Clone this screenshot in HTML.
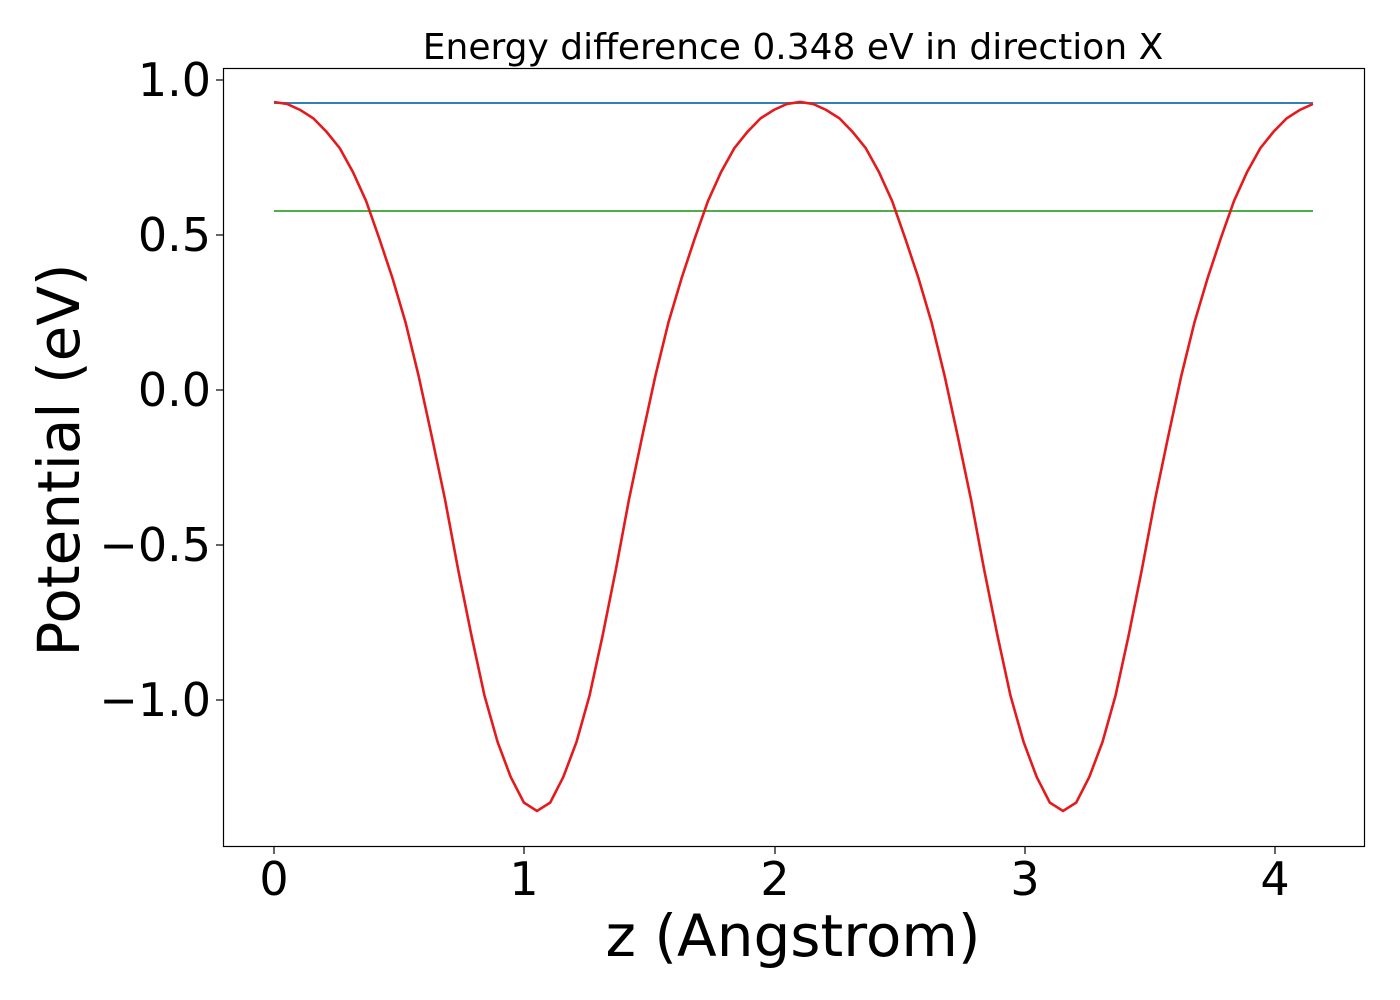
<!DOCTYPE html>
<html><head><meta charset="utf-8"><style>body{margin:0;background:#fff}svg{display:block}</style></head><body>
<svg width="1400" height="1000" xmlns="http://www.w3.org/2000/svg" font-family="'DejaVu Sans','Liberation Sans',sans-serif">
<rect width="1400" height="1000" fill="#fff"/>
<line x1="274" y1="103" x2="1313" y2="103" stroke="#377eb8" stroke-width="2"/>
<line x1="274" y1="211" x2="1313" y2="211" stroke="#4daf4a" stroke-width="2"/>
<polyline id="c" fill="none" stroke="#e41a1c" stroke-width="2.6" points=""/>
<rect x="223.5" y="68.5" width="1141" height="778" fill="none" stroke="#000" stroke-width="1.2"/>
<g stroke="#000" stroke-width="1.2">
<line x1="274" y1="847" x2="274" y2="854"/><line x1="524" y1="847" x2="524" y2="854"/><line x1="775" y1="847" x2="775" y2="854"/><line x1="1025" y1="847" x2="1025" y2="854"/><line x1="1275" y1="847" x2="1275" y2="854"/>
<line x1="216" y1="80" x2="223" y2="80"/><line x1="216" y1="235" x2="223" y2="235"/><line x1="216" y1="390" x2="223" y2="390"/><line x1="216" y1="545" x2="223" y2="545"/><line x1="216" y1="700" x2="223" y2="700"/>
</g>
<g font-size="46" text-anchor="middle">
<text x="274" y="895">0</text><text x="524" y="895">1</text><text x="775" y="895">2</text><text x="1025" y="895">3</text><text x="1275" y="895">4</text>
</g>
<g font-size="46" text-anchor="end">
<text x="211" y="96">1.0</text><text x="211" y="251">0.5</text><text x="211" y="406">0.0</text><text x="211" y="561">−0.5</text><text x="211" y="716">−1.0</text>
</g>
<text x="793" y="59" font-size="36" text-anchor="middle">Energy difference 0.348 eV in direction X</text>
<text x="793" y="956" font-size="58" text-anchor="middle">z (Angstrom)</text>
<text transform="translate(79,460) rotate(-90)" font-size="58" text-anchor="middle">Potential (eV)</text>
<script>
var v=[102,104,110,118.4,131.9,148.2,172,201,238.3,277.9,322.2,375.8,436.5,499.4,569.4,634.7,695.3,742,777,802.6,811];
function f(i){var m=i%40;if(m>20)m=40-m;return v[m];}
var p=[];for(var i=0;i<=79;i++){p.push((274+i*13.15).toFixed(1)+","+f(i).toFixed(1));}
document.getElementById("c").setAttribute("points",p.join(" "));
</script>
</svg>
</body></html>
